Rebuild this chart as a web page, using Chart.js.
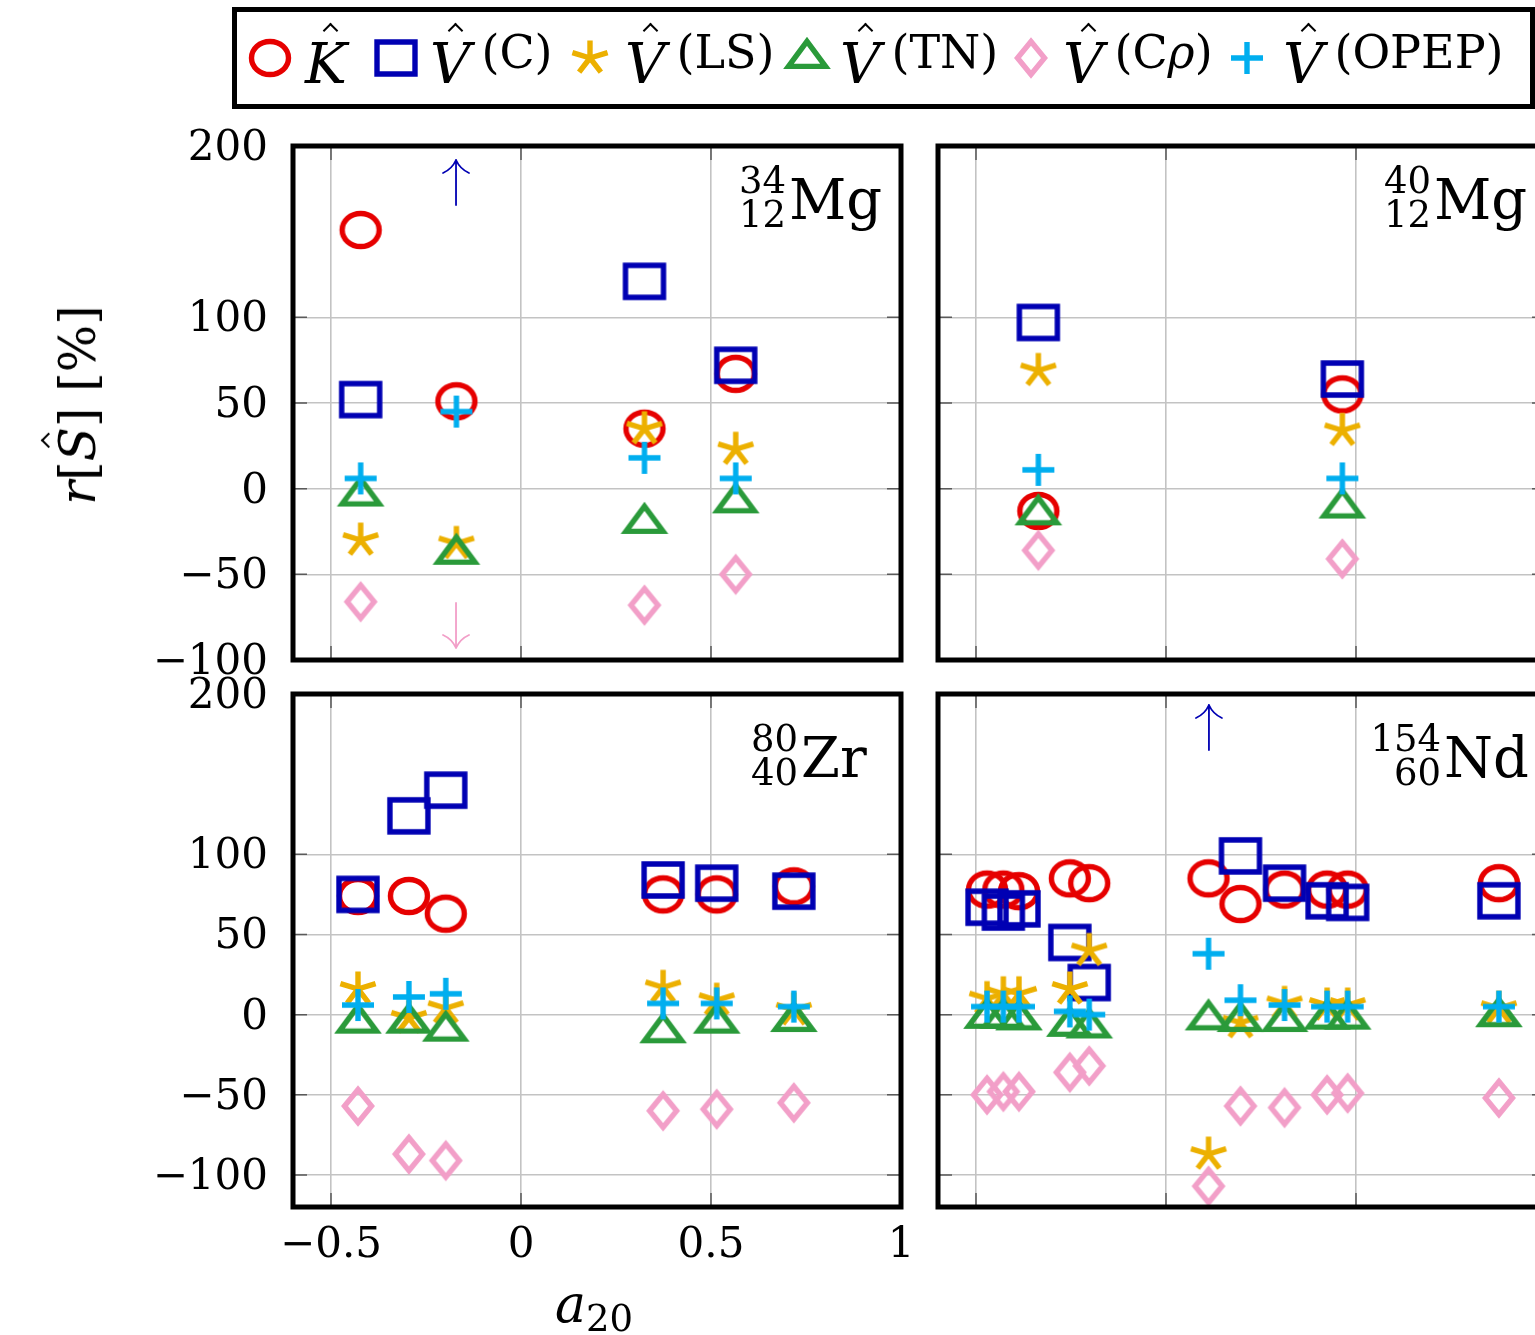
<!DOCTYPE html>
<html>
<head>
<meta charset="utf-8">
<script src="https://cdn.jsdelivr.net/npm/chart.js@4.4.1/dist/chart.umd.min.js"></script>
<style>
html,body{margin:0;padding:0;background:#fff;}
body{width:1535px;height:1335px;overflow:hidden;}
#wrap{position:relative;width:1535px;height:1335px;overflow:hidden;background:#fff;font-family:"DejaVu Serif","Liberation Serif",serif;color:#000;}
.abs{position:absolute;white-space:nowrap;line-height:1;}
.it{font-style:italic;}
.hat{position:relative;display:inline-block;}
.hat::after{content:"";position:absolute;left:var(--hx);top:var(--hy);width:9px;height:9px;border-left:2px solid #000;border-top:2px solid #000;transform:rotate(45deg);}
#legend{position:absolute;left:232px;top:7px;width:1303px;height:102px;border:5px solid #000;box-sizing:border-box;}
canvas{position:absolute;}
</style>
</head>
<body>
<div id="wrap"><div id="legend"></div></div>
<script>
// ---------------- data ----------------
const xTicks = [-0.5, 0, 0.5, 1];
const yTicks = [-100, -50, 0, 50, 100, 200];
const seriesNames = ['K', 'V(C)', 'V(LS)', 'V(TN)', 'V(Cρ)', 'V(OPEP)'];

const mg34X      = [-0.422, -0.170, 0.325, 0.565];
const mg34K      = [151, 51, 35, 67];
const mg34VC     = [52, null, 121, 72];
const mg34VLS    = [-30, -32, 35, 23];
const mg34VTN    = [-4, -38, -20, -8];
const mg34VCrho  = [-66, null, -68, -50];
const mg34VOPEP  = [6, 45, 18, 6];
const mg34Up     = [-0.171];
const mg34Down   = [-0.171];

const mg40X      = [-0.336, 0.464];
const mg40K      = [-13, 55];
const mg40VC     = [97, 64];
const mg40VLS    = [69, 34];
const mg40VTN    = [-15, -11];
const mg40VCrho  = [-36, -41];
const mg40VOPEP  = [11, 6];

const zr80X      = [-0.429, -0.295, -0.198, 0.374, 0.515, 0.718];
const zr80K      = [74, 74, 63, 75, 75, 80];
const zr80VC     = [75, 124, 140, 84, 82, 77];
const zr80VLS    = [16, -2, 4, 17, 9, 3];
const zr80VTN    = [-5, -5, -10, -11, -5, -4];
const zr80VCrho  = [-57, -87, -91, -60, -59, -55];
const zr80VOPEP  = [6, 11, 13, 7, 7, 5];

const nd154X     = [-0.471, -0.428, -0.387, -0.253, -0.202, 0.112, 0.196, 0.312, 0.424, 0.478, 0.876];
const nd154K     = [78, 78, 77, 85, 82, 85, 69, 78, 78, 78, 82];
const nd154VC    = [67, 64, 66, 45, 20, null, 99, 82, 71, 70, 71];
const nd154VLS   = [10, 13, 13, 16, 40, -87, -5, 7, 6, 6, 4];
const nd154VTN   = [-2, -2, -3, -7, -8, -3, -4, -4, -2.5, -2.5, -1];
const nd154VCrho = [-50, -48, -48, -36, -32, -107, -57, -58, -50, -49, -52];
const nd154VOPEP = [5, 5, 5, 2, 0, 38, 9, 6, 5, 5, 5];
const nd154Up    = [0.113];

// ---------------- styles ----------------
const COLORS = ['#e60000', '#0000b3', '#ecb000', '#2a9a3a', '#f29fc8', '#00aeef'];
const SHAPES = ['circle', 'square', 'star', 'triangle', 'diamond', 'plus'];
const ORDER  = [5, 4, 3, 2, 1, 0];

function marker(type, color) {
  const c = document.createElement('canvas');
  c.width = 60; c.height = 56;
  const g = c.getContext('2d');
  g.strokeStyle = color; g.lineWidth = 5.4; g.lineJoin = 'miter'; g.lineCap = 'butt';
  const cx = 30, cy = 28;
  g.beginPath();
  if (type === 'circle') g.ellipse(cx, cy, 18.5, 16.5, 0, 0, 2 * Math.PI);
  else if (type === 'square') g.rect(cx - 19, cy - 16, 38, 32);
  else if (type === 'triangle') { const w = 18.5, h = 25; g.moveTo(cx, cy - 2 * h / 3); g.lineTo(cx + w, cy + h / 3); g.lineTo(cx - w, cy + h / 3); g.closePath(); }
  else if (type === 'diamond') { g.moveTo(cx, cy - 16.5); g.lineTo(cx + 13.5, cy); g.lineTo(cx, cy + 16.5); g.lineTo(cx - 13.5, cy); g.closePath(); }
  else if (type === 'star') { for (let k = 0; k < 5; k++) { const a = -Math.PI / 2 + k * 2 * Math.PI / 5; g.moveTo(cx, cy); g.lineTo(cx + 18.5 * Math.cos(a), cy + 17.5 * Math.sin(a)); } }
  else if (type === 'plus') { g.moveTo(cx - 16, cy); g.lineTo(cx + 16, cy); g.moveTo(cx, cy - 16); g.lineTo(cx, cy + 16); }
  g.stroke();
  return c;
}
const MARKERS = SHAPES.map((s, i) => marker(s, COLORS[i]));

const fmt = v => (v < 0 ? '\u2212' + Math.abs(v) : String(v));
const FONT = { family: 'DejaVu Serif', size: 42 };

const framePlugin = {
  id: 'frame',
  afterDatasetsDraw(chart, args, opts) {
    const { ctx, chartArea: a, scales } = chart;
    ctx.save();
    (opts.arrows || []).forEach(ar => {
      const X = scales.x.getPixelForValue(ar.x);
      ctx.strokeStyle = ar.color; ctx.lineWidth = 1.8; ctx.lineCap = 'round';
      ctx.beginPath();
      if (ar.dir === 'up') {
        const tip = a.top + ar.off, end = tip + 45;
        ctx.moveTo(X, tip); ctx.lineTo(X, end);
        ctx.moveTo(X, tip); ctx.quadraticCurveTo(X - 4, tip + 9, X - 13, tip + 13);
        ctx.moveTo(X, tip); ctx.quadraticCurveTo(X + 4, tip + 9, X + 13, tip + 13);
      } else {
        const tip = a.bottom - ar.off, end = tip - 45;
        ctx.moveTo(X, tip); ctx.lineTo(X, end);
        ctx.moveTo(X, tip); ctx.quadraticCurveTo(X - 4, tip - 9, X - 13, tip - 13);
        ctx.moveTo(X, tip); ctx.quadraticCurveTo(X + 4, tip - 9, X + 13, tip - 13);
      }
      ctx.stroke();
    });
    ctx.strokeStyle = '#5a5a5a'; ctx.lineWidth = 1.5; ctx.lineCap = 'butt';
    ctx.beginPath();
    scales.y.ticks.forEach(t => {
      if (t.value <= scales.y.min || t.value >= scales.y.max) return;
      const Y = scales.y.getPixelForValue(t.value);
      ctx.moveTo(a.left, Y); ctx.lineTo(a.left + 14, Y);
      ctx.moveTo(a.right, Y); ctx.lineTo(a.right - 14, Y);
    });
    scales.x.ticks.forEach(t => {
      if (t.value <= scales.x.min || t.value >= scales.x.max) return;
      const X = scales.x.getPixelForValue(t.value);
      ctx.moveTo(X, a.top); ctx.lineTo(X, a.top + 14);
      ctx.moveTo(X, a.bottom); ctx.lineTo(X, a.bottom - 14);
    });
    ctx.stroke();
    ctx.strokeStyle = '#000'; ctx.lineWidth = 5;
    ctx.strokeRect(a.left, a.top, a.right - a.left, a.bottom - a.top);
    ctx.restore();
  }
};

const wrap = document.getElementById('wrap');

function panel(p) {
  const cv = document.createElement('canvas');
  cv.width = p.w; cv.height = p.h;
  cv.style.left = p.left + 'px'; cv.style.top = p.top + 'px';
  cv.style.width = p.w + 'px'; cv.style.height = p.h + 'px';
  wrap.appendChild(cv);
  const gridColor = ctx => {
    const s = ctx.scale, v = ctx.tick ? ctx.tick.value : null;
    return (v === null || v <= s.min || v >= s.max) ? 'rgba(0,0,0,0)' : '#c3c3c3';
  };
  const datasets = p.vals.map((vals, i) => ({
    label: seriesNames[i],
    data: p.x.map((xv, j) => ({ x: xv, y: vals[j] })).filter(d => d.y !== null),
    pointStyle: MARKERS[i],
    pointRadius: 10,
    pointHoverRadius: 10,
    order: ORDER[i],
    showLine: false
  }));
  new Chart(cv, {
    type: 'scatter',
    data: { datasets },
    options: {
      responsive: false, animation: false, devicePixelRatio: 1,
      layout: { padding: p.pad },
      plugins: { legend: { display: false }, tooltip: { enabled: false }, frame: { arrows: p.arrows || [] } },
      scales: {
        x: {
          type: 'linear', min: -0.6, max: 1.0,
          afterBuildTicks: s => { s.ticks = xTicks.map(v => ({ value: v })); },
          afterFit: s => { s.height = p.xh; },
          grid: { color: gridColor, lineWidth: 1.6, drawTicks: false },
          border: { display: false },
          ticks: { display: p.showX, padding: 14, font: FONT, color: '#000', callback: fmt, autoSkip: false, maxRotation: 0 }
        },
        y: {
          type: 'linear', min: p.ymin, max: 200,
          afterBuildTicks: s => { s.ticks = yTicks.map(v => ({ value: v })); },
          afterFit: s => { s.width = p.yw; },
          grid: { color: gridColor, lineWidth: 1.6, drawTicks: false },
          border: { display: false },
          ticks: { display: p.showY, padding: 25, labelOffset: 3, font: FONT, color: '#000', callback: fmt, autoSkip: false }
        }
      }
    },
    plugins: [framePlugin]
  });
}

panel({ left: 100, top: 80, w: 841, h: 640, yw: 193, xh: 0, pad: { left: 0, right: 40, top: 66, bottom: 60 },
  ymin: -100, showX: false, showY: true,
  x: mg34X, vals: [mg34K, mg34VC, mg34VLS, mg34VTN, mg34VCrho, mg34VOPEP],
  arrows: mg34Up.map(x => ({ x, dir: 'up', color: COLORS[1], off: 14 })).concat(mg34Down.map(x => ({ x, dir: 'down', color: COLORS[4], off: 12 }))) });
panel({ left: 920, top: 80, w: 670, h: 640, yw: 18, xh: 0, pad: { left: 0, right: 44, top: 66, bottom: 60 },
  ymin: -100, showX: false, showY: false,
  x: mg40X, vals: [mg40K, mg40VC, mg40VLS, mg40VTN, mg40VCrho, mg40VOPEP] });
panel({ left: 100, top: 630, w: 841, h: 667, yw: 193, xh: 70, pad: { left: 0, right: 40, top: 64, bottom: 20 },
  ymin: -120, showX: true, showY: true,
  x: zr80X, vals: [zr80K, zr80VC, zr80VLS, zr80VTN, zr80VCrho, zr80VOPEP] });
panel({ left: 920, top: 630, w: 670, h: 640, yw: 18, xh: 0, pad: { left: 0, right: 44, top: 64, bottom: 63 },
  ymin: -120, showX: false, showY: false,
  x: nd154X, vals: [nd154K, nd154VC, nd154VLS, nd154VTN, nd154VCrho, nd154VOPEP],
  arrows: nd154Up.map(x => ({ x, dir: 'up', color: COLORS[1], off: 11 })) });

// ---------------- text overlays ----------------
function addText(html, left, baseline, size, extra) {
  const d = document.createElement('div');
  d.className = 'abs';
  d.style.fontSize = size + 'px';
  d.style.left = left + 'px';
  d.style.top = (baseline - 0.846 * size) + 'px';
  if (extra) Object.assign(d.style, extra);
  d.innerHTML = html;
  wrap.appendChild(d);
  return d;
}
function addRight(html, right, baseline, size) {
  const d = document.createElement('div');
  d.className = 'abs';
  d.style.fontSize = size + 'px';
  d.style.right = (1535 - right) + 'px';
  d.style.top = (baseline - 0.846 * size) + 'px';
  d.innerHTML = html;
  wrap.appendChild(d);
}

// legend
const legMarkX = [270, 396, 590, 807, 1031, 1247];
const legTextX = [305, 430, 625, 840, 1063, 1283];
const legSup = ['', '(C)', '(LS)', '(TN)', '(C<i>ρ</i>)', '(OPEP)'];
const legMain = ['K', 'V', 'V', 'V', 'V', 'V'];
legMarkX.forEach((x, i) => {
  const c = marker(SHAPES[i], COLORS[i]);
  c.style.left = (x - 30) + 'px'; c.style.top = (58 - 28) + 'px';
  wrap.appendChild(c);
  addText('<span class="it hat" style="--hx:20px;--hy:-11px">' + legMain[i] + '</span>' +
    (legSup[i] ? '<span style="font-size:46px;position:relative;top:-15px;margin-left:11px">' + legSup[i] + '</span>' : ''),
    legTextX[i], 83, 56);
});

// nuclei labels
function nucleus(xr, base, A, Z, sym) {
  addRight(A, xr, base - 26, 37);
  addRight(Z, xr, base + 8, 37);
  addText(sym, xr + 3, base, 56);
}
nucleus(786, 219, '34', '12', 'Mg');
nucleus(1431, 219, '40', '12', 'Mg');
nucleus(798, 777, '80', '40', 'Zr');
nucleus(1441, 777, '154', '60', 'Nd');

// axis titles
const yt = document.createElement('div');
yt.className = 'abs';
yt.style.cssText += 'left:78px;top:405px;font-size:50px;transform:translate(-50%,-50%) rotate(-90deg);';
yt.innerHTML = '<span class="it">r</span>[<span class="it hat" style="--hx:16px;--hy:-10px">S</span>] [%]';
wrap.appendChild(yt);

addText('<span class="it">a</span><span style="font-size:37px;position:relative;top:9px">20</span>', 555, 1322, 52);
</script>
</body>
</html>
